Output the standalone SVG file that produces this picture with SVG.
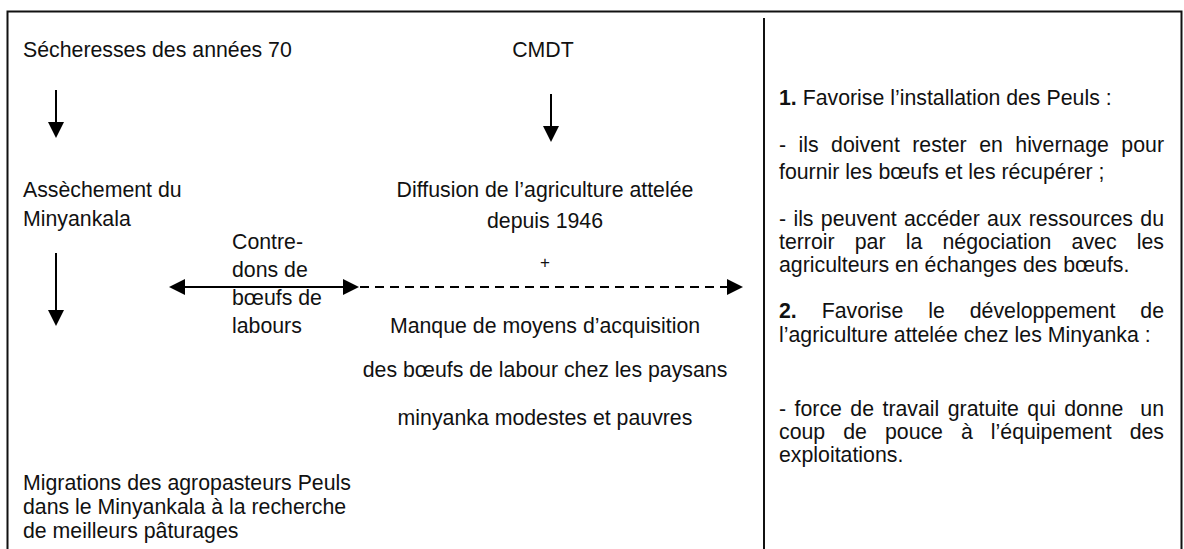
<svg xmlns="http://www.w3.org/2000/svg" width="1184" height="549" viewBox="0 0 1184 549">
<style>
  text { font-family: "Liberation Sans", Arial, sans-serif; font-size: 21.3px; fill: #111; }
  .mid { text-anchor: middle; }
  .b { font-weight: bold; }
  .frame { stroke: #111; stroke-width: 2; fill: none; }
  .conn { stroke: #000; stroke-width: 2; fill: none; }
  .dash { stroke-dasharray: 9 6; }
</style>
<defs>
  <marker id="ah" viewBox="0 0 16 16" refX="0" refY="8" markerWidth="16" markerHeight="16" markerUnits="userSpaceOnUse" orient="auto-start-reverse">
    <path d="M0,0 L16,8 L0,16 z" fill="#000"/>
  </marker>
</defs>
<rect width="1184" height="549" fill="#fff"/>
<g id="frame">
  <path class="frame" d="M7.5,549 V11.5 H1181.5 V549"/>
  <line class="frame" x1="764" y1="18" x2="764" y2="549" stroke-width="2.5"/>
</g>
<g id="connectors">
  <line class="conn" x1="56" y1="90" x2="56" y2="122" marker-end="url(#ah)"/>
  <line class="conn" x1="56" y1="253" x2="56" y2="310" marker-end="url(#ah)"/>
  <line class="conn" x1="551" y1="94" x2="551" y2="126" marker-end="url(#ah)"/>
  <line class="conn" x1="185" y1="287" x2="343" y2="287" marker-start="url(#ah)" marker-end="url(#ah)"/>
  <line class="conn dash" x1="360" y1="287" x2="727" y2="287" marker-end="url(#ah)"/>
</g>
<g id="node-secheresses"><text x="23" y="57">Sécheresses des années 70</text></g>
<g id="node-assechement">
  <text x="23" y="197">Assèchement du</text>
  <text x="23" y="226">Minyankala</text>
</g>
<g id="node-migrations">
  <text x="23" y="490">Migrations des agropasteurs Peuls</text>
  <text x="23" y="514">dans le Minyankala à la recherche</text>
  <text x="23" y="538">de meilleurs pâturages</text>
</g>
<g id="node-contredons">
  <text x="232" y="249">Contre-</text>
  <text x="232" y="277">dons de</text>
  <text x="232" y="305">bœufs de</text>
  <text x="232" y="333">labours</text>
</g>
<g id="node-cmdt"><text class="mid" x="543" y="57">CMDT</text></g>
<g id="node-diffusion">
  <text class="mid" x="545" y="197">Diffusion de l’agriculture attelée</text>
  <text class="mid" x="545" y="228">depuis 1946</text>
</g>
<g id="node-plus"><text class="mid" x="545" y="268" style="font-size:17px">+</text></g>
<g id="node-manque">
  <text class="mid" x="545" y="333">Manque de moyens d’acquisition</text>
  <text class="mid" x="545" y="377">des bœufs de labour chez les paysans</text>
  <text class="mid" x="545" y="425">minyanka modestes et pauvres</text>
</g>
<g id="node-effets">
  <text x="779" y="105"><tspan class="b">1.</tspan> Favorise l’installation des Peuls :</text>
  <text x="779" y="152" style="word-spacing:6.5px" textLength="385" lengthAdjust="spacing">- ils doivent rester en hivernage pour</text>
  <text x="779" y="179">fournir les bœufs et les récupérer ;</text>
  <text x="779" y="226" style="word-spacing:1.4px" textLength="385" lengthAdjust="spacing">- ils peuvent accéder aux ressources du</text>
  <text x="779" y="249" style="word-spacing:14.3px" textLength="385" lengthAdjust="spacing">terroir par la négociation avec les</text>
  <text x="779" y="272">agriculteurs en échanges des bœufs.</text>
  <text x="779" y="318" style="word-spacing:19px" textLength="385" lengthAdjust="spacing"><tspan class="b">2.</tspan> Favorise le développement de</text>
  <text x="779" y="342">l’agriculture attelée chez les Minyanka :</text>
  <text x="779" y="416" xml:space="preserve" style="white-space:pre;word-spacing:2.5px" textLength="385" lengthAdjust="spacing">- force de travail gratuite qui donne  un</text>
  <text x="779" y="439" style="word-spacing:12.1px" textLength="385" lengthAdjust="spacing">coup de pouce à l’équipement des</text>
  <text x="779" y="462">exploitations.</text>
</g>
</svg>
